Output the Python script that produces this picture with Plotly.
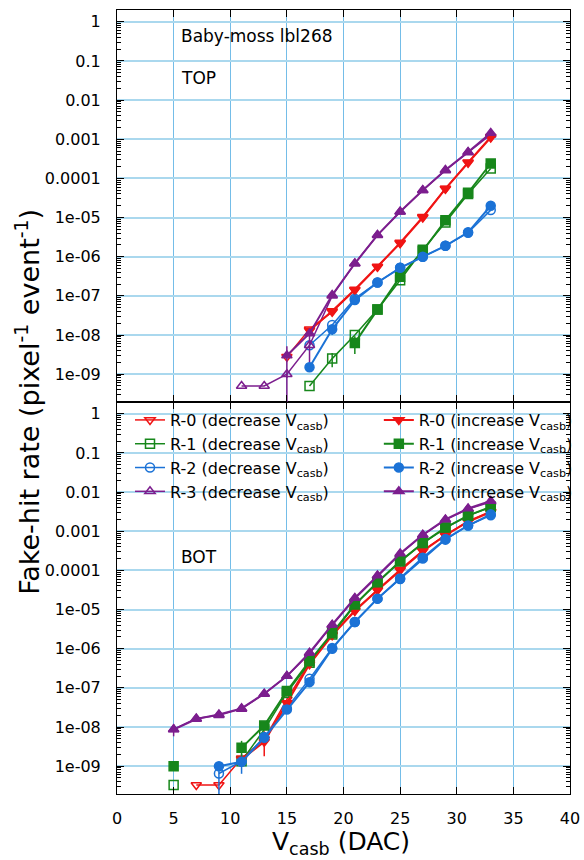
import plotly.graph_objects as go

# ---------------- data : TOP panel ----------------
t_r0_dec_x = [15, 17, 19, 21, 23, 25, 27, 29, 31, 33]
t_r0_dec_y = [2.8e-9, 1.4e-8, 3.9e-8, 1.4e-7, 5.5e-7, 2.3e-6, 1.05e-5, 5.5e-5, 2.6e-4, 1.15e-3]
t_r0_inc_x = [17, 19, 21, 23, 25, 27, 29, 31, 33]
t_r0_inc_y = [1.3e-8, 4.1e-8, 1.45e-7, 5.6e-7, 2.2e-6, 1.0e-5, 5.4e-5, 2.5e-4, 1.1e-3]

t_r1_dec_x = [17, 19, 21, 23, 25, 27, 29, 31, 33]
t_r1_dec_y = [5e-10, 2.5e-9, 1.0e-8, 4.5e-8, 2.5e-7, 1.5e-6, 7.5e-6, 4.0e-5, 1.8e-4]
t_r1_dec_ep = [0, 1e-9, 0, 0, 0, 0, 0, 0, 0]
t_r1_dec_em = [0, 1e-9, 0, 0, 0, 0, 0, 0, 0]
t_r1_inc_x = [21, 23, 25, 27, 29, 31, 33]
t_r1_inc_y = [6.3e-9, 4.5e-8, 3.1e-7, 1.4e-6, 8.5e-6, 4.3e-5, 2.4e-4]
t_r1_inc_ep = [3e-9, 0, 0, 0, 0, 0, 0]
t_r1_inc_em = [3e-9, 0, 0, 0, 0, 0, 0]

t_r2_dec_x = [17, 19, 21, 23, 25, 27, 29, 31, 33]
t_r2_dec_y = [5.5e-9, 1.8e-8, 8.5e-8, 2.2e-7, 5.2e-7, 1.0e-6, 1.9e-6, 4.1e-6, 1.55e-5]
t_r2_inc_x = [17, 19, 21, 23, 25, 27, 29, 31, 33]
t_r2_inc_y = [1.5e-9, 1.4e-8, 7.8e-8, 2.2e-7, 5.2e-7, 1.0e-6, 1.9e-6, 4.2e-6, 2.0e-5]
t_r2_inc_ep = [0, 4e-9, 0, 0, 0, 0, 0, 0, 0]
t_r2_inc_em = [0, 4e-9, 0, 0, 0, 0, 0, 0, 0]

t_r3_dec_x = [11, 13, 15, 17, 19, 21, 23, 25, 27, 29, 31, 33]
t_r3_dec_y = [5e-10, 5e-10, 1e-9, 5.5e-9, 1.0e-7, 6.7e-7, 3.6e-6, 1.4e-5, 5e-5, 1.6e-4, 4.6e-4, 1.3e-3]
t_r3_dec_ep = [0, 0, 0, 4e-9, 0, 0, 0, 0, 0, 0, 0, 0]
t_r3_dec_em = [0, 0, 9.9e-10, 4e-9, 0, 0, 0, 0, 0, 0, 0, 0]
t_r3_inc_x = [15, 17, 19, 21, 23, 25, 27, 29, 31, 33]
t_r3_inc_y = [3e-9, 1.1e-8, 1.05e-7, 6.7e-7, 3.55e-6, 1.4e-5, 5e-5, 1.63e-4, 4.7e-4, 1.45e-3]
t_r3_inc_ep = [2.2e-9, 0, 0, 0, 0, 0, 0, 0, 0, 0]
t_r3_inc_em = [2.2e-9, 0, 0, 0, 0, 0, 0, 0, 0, 0]

# ---------------- data : BOT panel ----------------
b_r0_dec_x = [7, 9, 11, 13, 15, 17, 19, 21, 23, 25, 27, 29, 31, 33]
b_r0_dec_y = [3.3e-10, 3.3e-10, 1.6e-9, 4.8e-9, 5e-8, 4.4e-7, 2.3e-6, 9.6e-6, 3.2e-5, 1.05e-4, 3.2e-4, 8e-4, 1.8e-3, 3.2e-3]
b_r0_dec_ep = [0, 0, 0, 3e-9, 0, 0, 0, 0, 0, 0, 0, 0, 0, 0]
b_r0_dec_em = [0, 0, 0, 3e-9, 0, 0, 0, 0, 0, 0, 0, 0, 0, 0]
b_r0_inc_x = [11, 13, 15, 17, 19, 21, 23, 25, 27, 29, 31, 33]
b_r0_inc_y = [1.5e-9, 4.2e-9, 4.1e-8, 4.0e-7, 2.2e-6, 9.2e-6, 3.1e-5, 1.0e-4, 3.1e-4, 7.8e-4, 1.75e-3, 3.1e-3]

b_r1_dec_x = [5, 7, 9, 11, 13, 15, 17, 19, 21, 23, 25, 27, 29, 31, 33]
b_r1_dec_y = [3.3e-10, None, None, 1.34e-9, 8.6e-9, 7.5e-8, 4.4e-7, 2.3e-6, 1.3e-5, 4.9e-5, 1.7e-4, 4.9e-4, 1.2e-3, 2.5e-3, 4.1e-3]
b_r1_inc_x = [5, 7, 9, 11, 13, 15, 17, 19, 21, 23, 25, 27, 29, 31, 33]
b_r1_inc_y = [1e-9, None, None, 2.94e-9, 1.09e-8, 8.3e-8, 4.8e-7, 2.5e-6, 1.34e-5, 5e-5, 1.7e-4, 5e-4, 1.24e-3, 2.5e-3, 4.2e-3]
b_r1_inc_ep = [0, 0, 0, 1.5e-9, 0, 0, 0, 0, 0, 0, 0, 0, 0, 0, 0]
b_r1_inc_em = [0, 0, 0, 1.2e-9, 0, 0, 0, 0, 0, 0, 0, 0, 0, 0, 0]

b_r2_dec_x = [9, 11, 13, 15, 17, 19, 21, 23, 25, 27, 29, 31, 33]
b_r2_dec_y = [6.5e-10, 1.34e-9, 5.6e-9, 3.0e-8, 1.7e-7, 1.05e-6, 4.8e-6, 1.9e-5, 6.0e-5, 2.0e-4, 6.1e-4, 1.4e-3, 2.55e-3]
b_r2_dec_ep = [3e-10, 7e-10, 0, 0, 0, 0, 0, 0, 0, 0, 0, 0, 0]
b_r2_dec_em = [6.4e-10, 7e-10, 0, 0, 0, 0, 0, 0, 0, 0, 0, 0, 0]
b_r2_inc_x = [9, 11, 13, 15, 17, 19, 21, 23, 25, 27, 29, 31, 33]
b_r2_inc_y = [1e-9, 1.3e-9, 5.3e-9, 2.8e-8, 1.4e-7, 1.0e-6, 4.8e-6, 1.9e-5, 6.2e-5, 2.1e-4, 6.3e-4, 1.4e-3, 2.7e-3]

b_r3_dec_x = [5, 7, 9, 11, 13, 15, 17, 19, 21, 23, 25, 27, 29, 31, 33]
b_r3_dec_y = [8.8e-9, 1.65e-8, 2.0e-8, 2.9e-8, 7.0e-8, 2.0e-7, 7.6e-7, 4.0e-6, 1.9e-5, 7.2e-5, 2.6e-4, 7.9e-4, 1.95e-3, 3.7e-3, 5.6e-3]
b_r3_dec_ep = [3e-9] + [0] * 14
b_r3_dec_em = [3e-9] + [0] * 14
b_r3_inc_x = [5, 7, 9, 11, 13, 15, 17, 19, 21, 23, 25, 27, 29, 31, 33]
b_r3_inc_y = [8.6e-9, 1.6e-8, 2.1e-8, 3.0e-8, 7.1e-8, 2.0e-7, 7.9e-7, 4.1e-6, 1.97e-5, 7.4e-5, 2.7e-4, 8.1e-4, 2.0e-3, 3.8e-3, 5.9e-3]

tick_vals = [1e-9, 1e-8, 1e-7, 1e-6, 1e-5, 1e-4, 1e-3, 1e-2, 1e-1, 1]
tick_text = ["1e-09", "1e-08", "1e-07", "1e-06", "1e-05", "0.0001", "0.001", "0.01", "0.1", "1"]

RED, GREEN, BLUE, PURPLE = "#f01414", "#17871b", "#1b72d6", "#7c1e8e"
FONT = "DejaVu Sans"

fig = go.Figure()


def add(xs, ys, name, color, symbol, filled, panel, ep=None, em=None):
    top = panel == "top"
    err = None
    if ep is not None:
        err = dict(type="data", symmetric=False, array=ep, arrayminus=em,
                   color=color, thickness=1.5, width=0, visible=True)
    fig.add_trace(go.Scatter(
        x=xs, y=ys, name=name, mode="lines+markers",
        xaxis="x2" if top else "x", yaxis="y2" if top else "y",
        line=dict(color=color, width=2.0 if filled else 1.5),
        marker=dict(symbol=symbol if filled else symbol + "-open", size=9,
                    color=color, line=dict(color=color, width=1.5)),
        error_y=err, connectgaps=False,
        showlegend=not top,
        legend="legend2" if filled else "legend",
    ))


dec = "(decrease V<sub>casb</sub>)"
inc = "(increase V<sub>casb</sub>)"

# TOP
add(t_r0_dec_x, t_r0_dec_y, "R-0 " + dec, RED, "triangle-down", False, "top")
add(t_r1_dec_x, t_r1_dec_y, "R-1 " + dec, GREEN, "square", False, "top", t_r1_dec_ep, t_r1_dec_em)
add(t_r2_dec_x, t_r2_dec_y, "R-2 " + dec, BLUE, "circle", False, "top")
add(t_r3_dec_x, t_r3_dec_y, "R-3 " + dec, PURPLE, "triangle-up", False, "top", t_r3_dec_ep, t_r3_dec_em)
add(t_r0_inc_x, t_r0_inc_y, "R-0 " + inc, RED, "triangle-down", True, "top")
add(t_r1_inc_x, t_r1_inc_y, "R-1 " + inc, GREEN, "square", True, "top", t_r1_inc_ep, t_r1_inc_em)
add(t_r2_inc_x, t_r2_inc_y, "R-2 " + inc, BLUE, "circle", True, "top", t_r2_inc_ep, t_r2_inc_em)
add(t_r3_inc_x, t_r3_inc_y, "R-3 " + inc, PURPLE, "triangle-up", True, "top", t_r3_inc_ep, t_r3_inc_em)

# BOT
add(b_r0_dec_x, b_r0_dec_y, "R-0 " + dec, RED, "triangle-down", False, "bot", b_r0_dec_ep, b_r0_dec_em)
add(b_r1_dec_x, b_r1_dec_y, "R-1 " + dec, GREEN, "square", False, "bot")
add(b_r2_dec_x, b_r2_dec_y, "R-2 " + dec, BLUE, "circle", False, "bot", b_r2_dec_ep, b_r2_dec_em)
add(b_r3_dec_x, b_r3_dec_y, "R-3 " + dec, PURPLE, "triangle-up", False, "bot", b_r3_dec_ep, b_r3_dec_em)
add(b_r0_inc_x, b_r0_inc_y, "R-0 " + inc, RED, "triangle-down", True, "bot")
add(b_r1_inc_x, b_r1_inc_y, "R-1 " + inc, GREEN, "square", True, "bot", b_r1_inc_ep, b_r1_inc_em)
add(b_r2_inc_x, b_r2_inc_y, "R-2 " + inc, BLUE, "circle", True, "bot")
add(b_r3_inc_x, b_r3_inc_y, "R-3 " + inc, PURPLE, "triangle-up", True, "bot")

minor_vals = [m * 10.0 ** e for e in range(-10, 1) for m in range(2, 10)]

xcommon = dict(range=[0, 40], tick0=0, dtick=5, ticks="inside", ticklen=7,
               tickcolor="black", showline=True, linecolor="black", linewidth=1,
               mirror="allticks", showgrid=True, gridcolor="#74bde8", gridwidth=1.2,
               zeroline=False, tickfont=dict(family=FONT, size=16, color="black"),
               ticklabelstandoff=10)
ycommon = dict(type="log", range=[-9.71, 0.30], tickmode="array", tickvals=tick_vals,
               ticktext=tick_text, ticks="inside", ticklen=7, tickcolor="black",
               showline=True, linecolor="black", linewidth=1, mirror="allticks",
               showgrid=True, gridcolor="#aad8ee", gridwidth=1.5, zeroline=False,
               tickfont=dict(family=FONT, size=16, color="black"), ticklabelstandoff=12,
               minor=dict(tickmode="array", tickvals=minor_vals, ticks="inside",
                          ticklen=4, tickcolor="black", showgrid=False))

fig.update_layout(
    width=584, height=860,
    margin=dict(l=117, r=14, t=10, b=66, autoexpand=False),
    paper_bgcolor="white", plot_bgcolor="white",
    font=dict(family=FONT, color="black"),
    xaxis=dict(anchor="y", domain=[0, 1], **xcommon),
    xaxis2=dict(anchor="y2", domain=[0, 1], matches="x", showticklabels=False, **xcommon),
    yaxis=dict(anchor="x", domain=[0, 0.5], **ycommon),
    yaxis2=dict(anchor="x2", domain=[0.5, 1], **ycommon),
    legend=dict(x=0.0287, y=0.4987, xanchor="left", yanchor="top",
                bgcolor="rgba(0,0,0,0)", font=dict(family=FONT, size=16),
                itemwidth=30, tracegroupgap=0),
    legend2=dict(x=0.578, y=0.4987, xanchor="left", yanchor="top",
                 bgcolor="rgba(0,0,0,0)", font=dict(family=FONT, size=16),
                 itemwidth=30, tracegroupgap=0),
    annotations=[
        dict(text="Baby-moss lbl268", xref="paper", yref="paper", x=0.137, y=0.9668,
             xanchor="left", yanchor="middle", showarrow=False, font=dict(size=17)),
        dict(text="TOP", xref="paper", yref="paper", x=0.137, y=0.9133,
             xanchor="left", yanchor="middle", showarrow=False, font=dict(size=17)),
        dict(text="BOT", xref="paper", yref="paper", x=0.137, y=0.3017,
             xanchor="left", yanchor="middle", showarrow=False, font=dict(size=17)),
        dict(text="Fake-hit rate (pixel<sup>-1</sup> event<sup>-1</sup>)", xref="paper",
             yref="paper", x=-0.199, y=0.5, xanchor="center", yanchor="middle",
             textangle=-90, showarrow=False, font=dict(size=27)),
        dict(text="V<sub>casb</sub> (DAC)", xref="paper", yref="paper", x=0.4945,
             y=-0.0625, xanchor="center", yanchor="middle", showarrow=False,
             font=dict(size=25)),
    ],
)

fig.write_html("out.html")
